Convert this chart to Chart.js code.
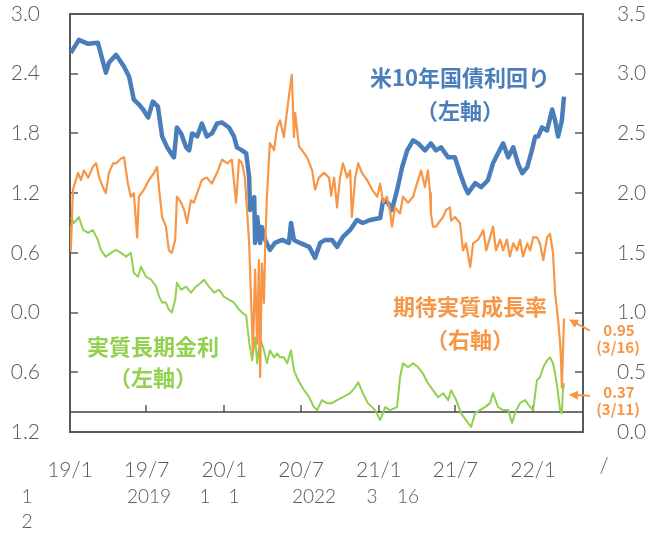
<!DOCTYPE html>
<html lang="ja">
<head>
<meta charset="UTF-8">
<title>米10年国債利回り・期待実質成長率・実質長期金利</title>
<script src="https://cdn.jsdelivr.net/npm/chart.js"></script>
<style>
  html, body { margin: 0; padding: 0; background: #fff; }
</style>
</head>
<body>
<canvas id="myChart" width="648" height="536"></canvas>
<script>
// x は 2019/1/1 からの経過日数
const tickDays = [0, 181, 365, 547, 731, 912, 1096];
const tickLabels = ["19/1", "19/7", "20/1", "20/7", "21/1", "21/7", "22/1"];
const xMax = 1214;

// 米10年国債利回り（左軸, %）
const yieldDays = [2,21,43,66,85,92,109,128,140,151,161,173,185,196,208,218,230,239,246,253,
  263,275,282,289,301,312,324,336,348,360,376,388,395,407,417,424,426,436,438,443,
  450,454,462,473,485,502,518,523,530,544,566,580,592,604,620,632,646,663,679,693,
  710,734,741,753,762,774,786,798,812,824,840,854,866,878,895,911,923,935,942,959,
  973,989,1001,1013,1025,1037,1049,1060,1070,1082,1093,1101,1108,1117,1129,1141,1148,1155,1164,1169];
const yieldValues = [2.61,2.74,2.70,2.71,2.41,2.51,2.59,2.47,2.37,2.14,2.10,2.04,1.96,2.12,2.07,1.77,1.66,1.60,1.56,1.86,
  1.80,1.66,1.63,1.80,1.77,1.90,1.77,1.80,1.90,1.91,1.86,1.77,1.66,1.63,1.60,1.36,1.03,1.16,0.70,0.96,
  0.70,0.86,0.73,0.63,0.70,0.73,0.70,0.90,0.73,0.70,0.66,0.55,0.70,0.73,0.73,0.66,0.76,0.83,0.93,0.90,
  0.93,0.95,1.13,1.10,1.03,1.23,1.46,1.63,1.73,1.70,1.63,1.70,1.63,1.66,1.56,1.56,1.40,1.26,1.20,1.30,
  1.26,1.33,1.50,1.60,1.70,1.56,1.66,1.50,1.40,1.46,1.63,1.77,1.77,1.86,1.83,2.04,1.93,1.77,1.93,2.17];

// 期待実質成長率（右軸, %）
const growthDays = [0,2,7,19,26,33,43,54,62,69,78,85,92,102,109,121,128,137,144,151,
  159,163,175,187,199,206,211,218,227,234,241,249,253,263,270,277,286,293,301,312,
  324,336,348,360,372,383,393,400,407,414,424,428,433,438,443,447,450,454,459,462,
  466,473,483,490,497,506,514,521,525,530,533,542,549,561,573,580,589,601,613,618,
  625,632,639,646,656,663,667,675,682,691,703,715,727,734,741,750,757,762,769,781,
  788,800,812,821,831,840,847,852,854,859,866,876,883,890,899,902,911,923,930,937,
  947,954,966,978,985,994,1001,1008,1018,1025,1034,1041,1049,1058,1065,1072,1082,1089,1096,1105,
  1112,1120,1129,1136,1143,1148,1155,1160,1162,1164,1169];
const growthValues = [1.72,1.52,2.03,2.17,2.11,2.19,2.13,2.22,2.25,2.13,2.05,2.00,2.17,2.25,2.25,2.29,2.30,2.08,1.97,2.00,
  1.63,1.97,2.03,2.11,2.17,2.22,2.03,1.80,1.72,1.52,1.50,1.61,1.97,1.92,1.86,1.75,1.94,1.92,2.00,2.11,
  2.13,2.08,2.17,2.28,2.25,2.28,1.92,2.28,2.25,2.13,1.58,1.16,0.66,1.36,0.74,1.44,0.46,1.41,1.08,1.58,
  1.97,2.42,2.36,2.55,2.61,2.47,2.70,2.89,2.99,2.47,2.67,2.39,2.36,2.30,2.19,2.03,2.13,2.17,2.13,1.98,
  2.13,1.88,2.13,2.25,2.13,2.19,1.80,2.13,2.25,2.17,2.11,2.03,1.97,2.08,1.92,1.97,1.86,1.72,1.88,1.83,
  1.97,1.92,1.97,2.08,2.19,2.05,2.19,2.00,1.83,1.72,1.72,1.77,1.80,1.86,1.88,1.77,1.80,1.75,1.52,1.58,
  1.38,1.58,1.61,1.69,1.52,1.63,1.72,1.52,1.61,1.52,1.61,1.47,1.58,1.52,1.61,1.47,1.58,1.52,1.63,1.63,
  1.58,1.44,1.63,1.66,1.50,1.16,0.94,0.74,0.60,0.37,0.95];

// 実質長期金利（左軸, %）
const realDays = [2,9,21,31,43,54,66,73,85,97,109,121,133,144,151,161,168,180,192,204,
  211,218,227,234,241,249,253,263,275,286,298,310,317,329,341,353,364,376,388,400,
  407,417,424,431,438,443,450,459,466,473,483,490,497,506,514,523,530,537,544,554,
  566,577,585,596,608,620,632,646,663,675,682,693,705,722,734,746,757,774,781,788,
  800,812,824,835,847,859,871,883,895,902,914,925,937,949,959,970,982,994,1001,1013,
  1025,1037,1046,1053,1065,1077,1089,1096,1105,1112,1120,1129,1136,1143,1148,1153,1160,1164,1166,1169];
const realValues = [0.96,0.90,0.96,0.83,0.80,0.83,0.73,0.63,0.56,0.60,0.63,0.60,0.56,0.60,0.40,0.36,0.46,0.36,0.33,0.26,
  0.16,0.10,0.10,0.03,0.00,0.13,0.30,0.23,0.26,0.20,0.26,0.30,0.33,0.26,0.20,0.23,0.16,0.13,0.10,0.03,
  0.00,-0.03,-0.30,-0.48,-0.25,-0.51,-0.25,-0.38,-0.51,-0.38,-0.45,-0.41,-0.45,-0.45,-0.51,-0.38,-0.58,-0.65,-0.71,-0.78,
  -0.85,-0.95,-0.98,-0.88,-0.91,-0.91,-0.88,-0.85,-0.81,-0.75,-0.70,-0.81,-0.91,-0.98,-1.08,-0.95,-0.98,-0.95,-0.65,-0.51,
  -0.55,-0.51,-0.55,-0.61,-0.71,-0.78,-0.85,-0.81,-0.88,-0.78,-0.88,-1.01,-1.08,-1.15,-1.01,-0.98,-0.95,-0.91,-0.81,-0.95,
  -0.98,-0.98,-1.11,-1.01,-0.91,-0.88,-0.95,-0.98,-0.68,-0.65,-0.55,-0.48,-0.45,-0.51,-0.61,-0.75,-0.98,-1.01,-0.81,-0.71];

// 横軸の基準線（左軸）
const baseLevel = -1.0;

const BLUE = "#4a7ebb";
const ORANGE = "#f79646";
const GREEN = "#92d050";
const AXIS = "#595959";
const tickFont = { family: "Lato", size: 21, weight: 300 };

function toPoints(days, values) {
    return days.map((d, i) => ({ x: d, y: values[i] }));
}

// 縦軸の上下余白はtick paddingで広がるので消す
function fixVertical(width) {
    return s => {
        s.width = width;
        s.paddingTop = 0;
        s.paddingBottom = 0;
    };
}

// 枠線・目盛り・注記
const decor = {
    id: "decor",
    beforeDatasetsDraw(chart) {
        const { ctx, chartArea: a, scales } = chart;
        ctx.save();
        ctx.strokeStyle = AXIS;
        ctx.lineWidth = 2;
        ctx.strokeRect(a.left, a.top, a.right - a.left, a.bottom - a.top);
        ctx.lineWidth = 1.5;
        ctx.beginPath();
        scales.y.ticks.forEach(t => {
            const py = Math.round(scales.y.getPixelForValue(t.value));
            ctx.moveTo(a.left, py); ctx.lineTo(a.left + 8, py);
        });
        scales.y2.ticks.forEach(t => {
            const py = Math.round(scales.y2.getPixelForValue(t.value));
            ctx.moveTo(a.right - 8, py); ctx.lineTo(a.right, py);
        });
        const baseY = scales.y.getPixelForValue(baseLevel);
        tickDays.slice(1).forEach(d => {
            const px = Math.round(scales.x.getPixelForValue(d));
            ctx.moveTo(px, baseY); ctx.lineTo(px, baseY - 7);
        });
        ctx.stroke();
        ctx.restore();
    },
    afterDraw(chart) {
        const { ctx, scales } = chart;
        ctx.save();
        ctx.textAlign = "center";
        ctx.textBaseline = "middle";

        ctx.font = '700 22px "Noto Sans CJK JP"';
        ctx.fillStyle = BLUE;
        ctx.fillText("米10年国債利回り", 460, 78);
        ctx.fillText("（左軸）", 460, 111);

        ctx.fillStyle = ORANGE;
        ctx.fillText("期待実質成長率", 470, 307);
        ctx.fillText("（右軸）", 470, 340);

        ctx.fillStyle = GREEN;
        ctx.fillText("実質長期金利", 153, 347);
        ctx.fillText("（左軸）", 153, 378);

        // 直近値の注記
        ctx.font = '700 15px "Noto Sans CJK JP"';
        ctx.fillStyle = ORANGE;
        ctx.fillText("0.95", 619, 330);
        ctx.fillText("(3/16)", 618, 347);
        ctx.fillText("0.37", 619, 392);
        ctx.fillText("(3/11)", 618, 409);

        const last = growthDays.length - 1;
        const p1x = scales.x.getPixelForValue(growthDays[last]);
        const p1y = scales.y2.getPixelForValue(growthValues[last]);
        const p2x = scales.x.getPixelForValue(growthDays[last - 1]);
        const p2y = scales.y2.getPixelForValue(growthValues[last - 1]);
        arrow(ctx, p1x + 26, p1y + 12, p1x + 5, p1y + 1);
        arrow(ctx, p2x + 28, p2y + 8, p2x + 7, p2y + 7);

        // 下部のテキスト
        ctx.font = '300 21px Lato';
        ctx.fillStyle = AXIS;
        ctx.fillText("/", 604, 466);
        ctx.font = '300 19px Lato';
        ctx.fillText("1", 27, 497);
        ctx.fillText("2019", 149, 497);
        ctx.fillText("1", 205, 497);
        ctx.fillText("1", 234, 497);
        ctx.fillText("2022", 314, 497);
        ctx.fillText("3", 372, 497);
        ctx.fillText("16", 408, 497);
        ctx.fillText("2", 27, 522);
        ctx.restore();
    }
};

function arrow(ctx, x0, y0, x1, y1) {
    const ang = Math.atan2(y1 - y0, x1 - x0);
    ctx.strokeStyle = ORANGE;
    ctx.fillStyle = ORANGE;
    ctx.lineWidth = 2;
    ctx.beginPath();
    ctx.moveTo(x0, y0);
    ctx.lineTo(x1 - 6 * Math.cos(ang), y1 - 6 * Math.sin(ang));
    ctx.stroke();
    ctx.beginPath();
    ctx.moveTo(x1, y1);
    ctx.lineTo(x1 - 9 * Math.cos(ang) + 4.5 * Math.sin(ang), y1 - 9 * Math.sin(ang) - 4.5 * Math.cos(ang));
    ctx.lineTo(x1 - 9 * Math.cos(ang) - 4.5 * Math.sin(ang), y1 - 9 * Math.sin(ang) + 4.5 * Math.cos(ang));
    ctx.closePath();
    ctx.fill();
}

new Chart(document.getElementById("myChart"), {
    type: "line",
    data: {
        datasets: [
            {
                label: "基準線",
                data: toPoints([0, xMax], [baseLevel, baseLevel]),
                yAxisID: "y",
                borderColor: "#404040",
                borderWidth: 1.5,
                order: 4
            },
            {
                label: "米10年国債利回り",
                data: toPoints(yieldDays, yieldValues),
                yAxisID: "y",
                borderColor: BLUE,
                borderWidth: 4.5,
                order: 3
            },
            {
                label: "実質長期金利",
                data: toPoints(realDays, realValues),
                yAxisID: "y",
                borderColor: GREEN,
                borderWidth: 2,
                order: 2
            },
            {
                label: "期待実質成長率",
                data: toPoints(growthDays, growthValues),
                yAxisID: "y2",
                borderColor: ORANGE,
                borderWidth: 2.2,
                order: 1
            }
        ]
    },
    options: {
        responsive: false,
        animation: false,
        devicePixelRatio: 1,
        elements: { point: { radius: 0 }, line: { tension: 0, borderJoinStyle: "round" } },
        layout: { padding: { top: 14, left: 0, right: 0, bottom: 0 } },
        plugins: { legend: { display: false }, tooltip: { enabled: false } },
        scales: {
            x: {
                type: "linear",
                min: 0,
                max: xMax,
                afterBuildTicks: s => { s.ticks = tickDays.map(v => ({ value: v })); },
                afterFit: s => { s.height = 104; s.paddingLeft = 0; s.paddingRight = 0; },
                grid: { display: false },
                border: { display: false },
                ticks: {
                    autoSkip: false,
                    maxRotation: 0,
                    padding: 18,
                    color: AXIS,
                    font: tickFont,
                    callback: v => tickLabels[tickDays.indexOf(v)]
                }
            },
            y: {
                position: "left",
                min: -1.2,
                max: 3.0,
                afterBuildTicks: s => { s.ticks = [-1.2, -0.6, 0, 0.6, 1.2, 1.8, 2.4, 3.0].map(v => ({ value: v })); },
                afterFit: fixVertical(70),
                grid: { display: false },
                border: { display: false },
                ticks: {
                    padding: 22,
                    color: AXIS,
                    font: tickFont,
                    callback: v => Math.abs(v).toFixed(1)
                }
            },
            y2: {
                position: "right",
                min: 0,
                max: 3.5,
                afterBuildTicks: s => { s.ticks = [0, 0.5, 1, 1.5, 2, 2.5, 3, 3.5].map(v => ({ value: v })); },
                afterFit: fixVertical(65),
                grid: { display: false },
                border: { display: false },
                ticks: {
                    padding: 26,
                    color: AXIS,
                    font: tickFont,
                    callback: v => v.toFixed(1)
                }
            }
        }
    },
    plugins: [decor]
});
</script>
</body>
</html>
